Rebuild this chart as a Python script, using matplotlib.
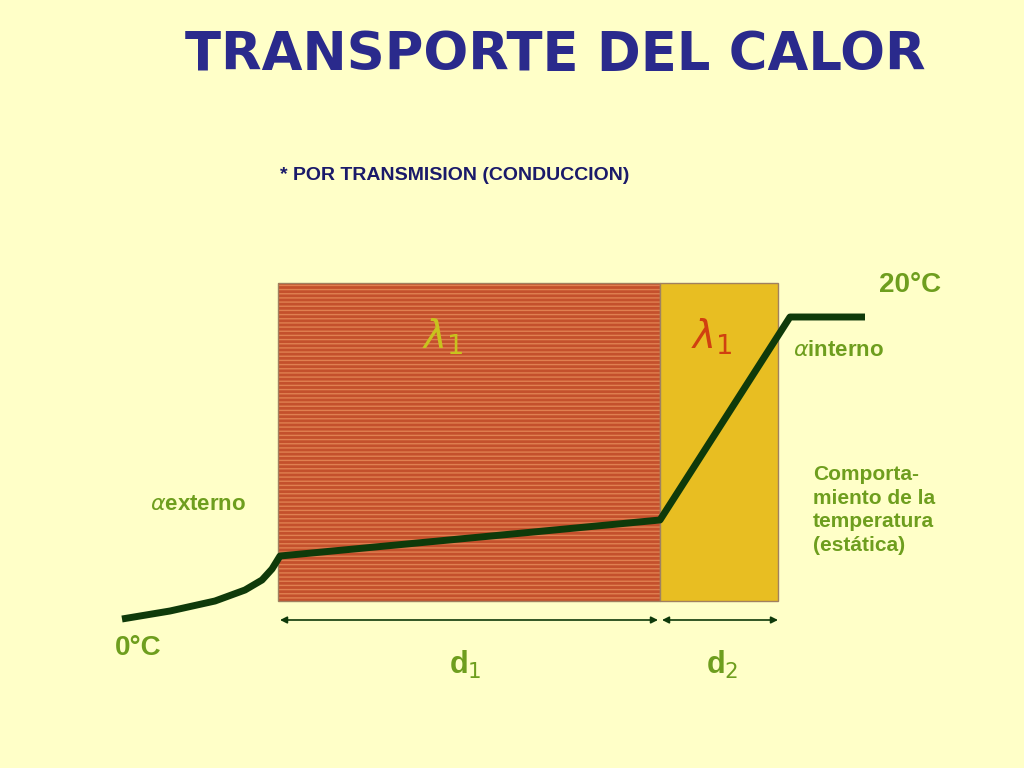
import matplotlib.pyplot as plt
from matplotlib.patches import Rectangle

# temperature profile (pixel coordinates of the slide)
temp_x = [122, 170, 215, 245, 262, 272, 280, 660, 790, 865]
temp_y = [619, 611, 601, 590, 580, 569, 556, 520, 317, 317]

layers = [
    ("brick", 278, 660, "#C4502C", "#E08050", "----"),
    ("insul", 660, 778, "#E8BE22", "#C89A10", "~~~"),
]
wall_top, wall_bottom = 283, 601

green = "#6E9E1E"
bg = "#FFFFC8"

fig = plt.figure(figsize=(10.24, 7.68), dpi=100, facecolor=bg)
ax = fig.add_axes([0, 0, 1, 1])
ax.set_xlim(0, 1024)
ax.set_ylim(768, 0)
ax.axis("off")
ax.set_facecolor(bg)

plt.rcParams['hatch.linewidth'] = 1.0
for name, x0, x1, fc, hc, hatch in layers:
    r = Rectangle((x0, wall_top), x1 - x0, wall_bottom - wall_top,
                  facecolor=fc, edgecolor=hc, hatch=hatch, lw=0)
    ax.add_patch(r)
    ax.add_patch(Rectangle((x0, wall_top), x1 - x0, wall_bottom - wall_top,
                           fill=False, edgecolor="#A08060", lw=1))

ax.plot(temp_x, temp_y, color="#0F3A0A", lw=5, solid_capstyle="butt")

# dimension arrows
for x0, x1 in [(280, 658), (662, 778)]:
    ax.annotate("", xy=(x0, 620), xytext=(x1, 620),
                arrowprops=dict(arrowstyle="<|-|>", color="#0F3A0A", lw=1.2,
                                mutation_scale=10, shrinkA=0, shrinkB=0))

ax.text(555, 55, "TRANSPORTE DEL CALOR", ha="center", va="center",
        fontsize=38, fontweight="black", color="#2A2A8C", family="DejaVu Sans")
ax.text(455, 175, "* POR TRANSMISION (CONDUCCION)", ha="center", va="center",
        fontsize=14, fontweight="bold", color="#1A1A6A", family="Liberation Sans")

kw = dict(fontweight="bold", family="Liberation Sans", color=green)
ax.text(910, 285, "20°C", ha="center", va="center", fontsize=20, **kw)
ax.text(138, 648, "0°C", ha="center", va="center", fontsize=20, **kw)
ax.text(465, 665, "d$_1$", ha="center", va="center", fontsize=22, **kw)
ax.text(722, 665, "d$_2$", ha="center", va="center", fontsize=22, **kw)
ax.text(150, 505, r"$\alpha$externo", ha="left", va="center", fontsize=16, **kw)
ax.text(793, 350, r"$\alpha$interno", ha="left", va="center", fontsize=16, **kw)
ax.text(813, 510, "Comporta-\nmiento de la\ntemperatura\n(estática)", ha="left",
        va="center", fontsize=15, linespacing=1.3, **kw)
ax.text(443, 337, r"$\lambda_1$", ha="center", va="center", fontsize=28,
        color="#C8C21E", fontweight="bold")
ax.text(712, 337, r"$\lambda_1$", ha="center", va="center", fontsize=28,
        color="#D04010", fontweight="bold")

fig.savefig("out.png", dpi=100, facecolor=bg)
